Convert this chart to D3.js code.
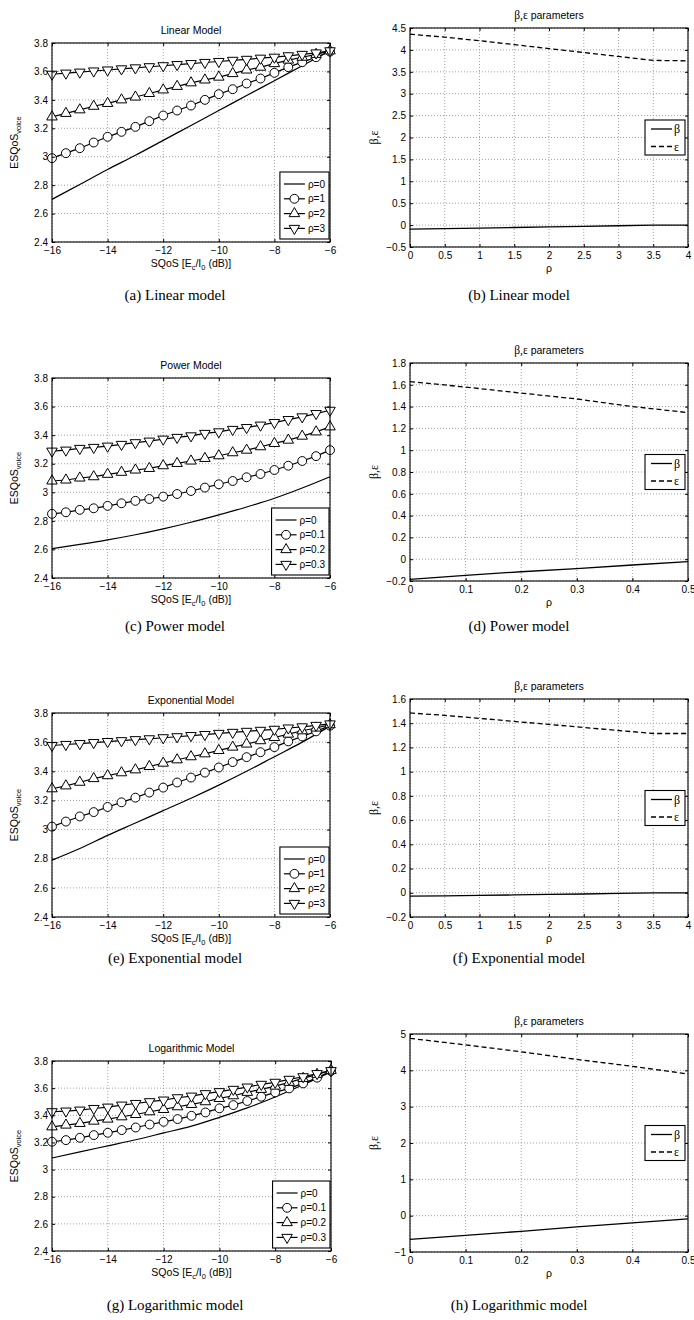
<!DOCTYPE html>
<html>
<head>
<meta charset="utf-8">
<style>
body { margin: 0; background: #fff; }
text { font-family: "Liberation Sans", Arial, sans-serif; fill: #000; }
.serif { font-family: "Liberation Serif", "Times New Roman", serif; }
.caption { font-family: "Liberation Serif", "Times New Roman", serif; font-size: 15px; }
.grid line { stroke: #8a8a8a; stroke-width: 0.8; stroke-dasharray: 1,2; }
.axis path { display: none; }
.axis line { stroke: #000; }
.axis text { font-size: 10px; font-family: "Liberation Sans", Arial, sans-serif; }
</style>
</head>
<body>

<svg id="chart" width="694" height="1320"></svg>

<script src="https://d3js.org/d3.v7.min.js"></script>
<script>

// x values
var sqos = [-16, -15.5, -15, -14.5, -14, -13.5, -13, -12.5, -12, -11.5, -11, -10.5, -10, -9.5, -9, -8.5, -8, -7.5, -7, -6.5, -6];
var sqosCoarse = [-16, -15, -14, -13, -12, -11, -10, -9, -8, -7, -6];
var rhoWide = [0, 0.5, 1, 1.5, 2, 2.5, 3, 3.5, 4];
var rhoNarrow = [0, 0.1, 0.2, 0.3, 0.4, 0.5];

// ESQoS curves
var linRho0 = [2.70, 2.805, 2.91, 3.01, 3.115, 3.22, 3.325, 3.43, 3.535, 3.64, 3.745];
var linRho1 = [2.99, 3.025, 3.06, 3.10, 3.14, 3.175, 3.21, 3.25, 3.29, 3.325, 3.36, 3.40, 3.44, 3.475, 3.515, 3.55, 3.59, 3.63, 3.665, 3.70, 3.74];
var linRho2 = [3.28, 3.305, 3.33, 3.355, 3.375, 3.40, 3.42, 3.445, 3.47, 3.495, 3.52, 3.54, 3.56, 3.585, 3.61, 3.63, 3.655, 3.68, 3.70, 3.72, 3.745];
var linRho3 = [3.58, 3.588, 3.595, 3.603, 3.61, 3.618, 3.625, 3.633, 3.64, 3.648, 3.655, 3.663, 3.67, 3.678, 3.685, 3.693, 3.70, 3.71, 3.72, 3.73, 3.745];

var powRho0 = [2.605, 2.635, 2.667, 2.703, 2.744, 2.79, 2.842, 2.897, 2.958, 3.03, 3.109];
var powRho1 = [2.849, 2.86, 2.877, 2.888, 2.905, 2.923, 2.94, 2.953, 2.97, 2.988, 3.009, 3.033, 3.056, 3.079, 3.105, 3.128, 3.156, 3.186, 3.219, 3.253, 3.295];
var powRho2 = [3.079, 3.086, 3.10, 3.109, 3.126, 3.14, 3.156, 3.167, 3.186, 3.202, 3.219, 3.237, 3.256, 3.277, 3.295, 3.319, 3.342, 3.365, 3.393, 3.423, 3.458];
var powRho3 = [3.288, 3.295, 3.307, 3.314, 3.323, 3.335, 3.347, 3.358, 3.372, 3.384, 3.395, 3.412, 3.423, 3.44, 3.453, 3.47, 3.488, 3.509, 3.528, 3.551, 3.574];

var expRho0 = [2.79, 2.87, 2.96, 3.045, 3.13, 3.215, 3.305, 3.40, 3.50, 3.60, 3.71];
var expRho1 = [3.02, 3.055, 3.09, 3.12, 3.155, 3.187, 3.219, 3.254, 3.288, 3.323, 3.357, 3.391, 3.426, 3.463, 3.497, 3.531, 3.566, 3.605, 3.639, 3.674, 3.713];
var expRho2 = [3.28, 3.30, 3.325, 3.35, 3.37, 3.39, 3.41, 3.433, 3.456, 3.479, 3.50, 3.52, 3.543, 3.566, 3.587, 3.61, 3.632, 3.655, 3.678, 3.697, 3.72];
var expRho3 = [3.577, 3.584, 3.59, 3.597, 3.604, 3.61, 3.617, 3.623, 3.63, 3.637, 3.645, 3.652, 3.66, 3.667, 3.674, 3.681, 3.688, 3.697, 3.705, 3.715, 3.725];

var logRho0 = [3.085, 3.13, 3.175, 3.22, 3.27, 3.32, 3.385, 3.455, 3.535, 3.625, 3.72];
var logRho1 = [3.205, 3.217, 3.234, 3.254, 3.271, 3.291, 3.31, 3.332, 3.352, 3.372, 3.396, 3.421, 3.451, 3.475, 3.505, 3.537, 3.569, 3.598, 3.635, 3.677, 3.726];
var logRho2 = [3.315, 3.328, 3.34, 3.357, 3.372, 3.389, 3.406, 3.426, 3.443, 3.463, 3.48, 3.50, 3.524, 3.544, 3.569, 3.591, 3.615, 3.643, 3.672, 3.702, 3.731];
var logRho3 = [3.426, 3.431, 3.438, 3.45, 3.46, 3.475, 3.487, 3.50, 3.512, 3.529, 3.541, 3.559, 3.574, 3.591, 3.608, 3.628, 3.643, 3.665, 3.684, 3.707, 3.729];

// beta / epsilon parameters
var linBeta = [-0.09, -0.08, -0.07, -0.055, -0.04, -0.03, -0.015, 0, 0];
var linEps = [4.36, 4.29, 4.21, 4.12, 4.03, 3.94, 3.85, 3.76, 3.75];
var powBeta = [-0.185, -0.148, -0.115, -0.087, -0.053, -0.023];
var powEps = [1.63, 1.579, 1.524, 1.47, 1.40, 1.345];
var expBeta = [-0.028, -0.025, -0.022, -0.018, -0.014, -0.01, -0.005, 0, 0];
var expEps = [1.485, 1.465, 1.44, 1.415, 1.39, 1.365, 1.34, 1.315, 1.315];
var logBeta = [-0.65, -0.54, -0.43, -0.31, -0.2, -0.09];
var logEps = [4.88, 4.70, 4.51, 4.30, 4.11, 3.90];

// ticks and labels
var sqosTicks = [-16, -14, -12, -10, -8, -6];
var esqosTicks = [2.4, 2.6, 2.8, 3, 3.2, 3.4, 3.6, 3.8];
var rhoWideTicks = [0, 0.5, 1, 1.5, 2, 2.5, 3, 3.5, 4];
var rhoNarrowTicks = [0, 0.1, 0.2, 0.3, 0.4, 0.5];
var linParamTicks = [-0.5, 0, 0.5, 1, 1.5, 2, 2.5, 3, 3.5, 4, 4.5];
var powParamTicks = [-0.2, 0, 0.2, 0.4, 0.6, 0.8, 1, 1.2, 1.4, 1.6, 1.8];
var expParamTicks = [-0.2, 0, 0.2, 0.4, 0.6, 0.8, 1, 1.2, 1.4, 1.6];
var logParamTicks = [-1, 0, 1, 2, 3, 4, 5];
var rhoLabelsInt = ["ρ=0", "ρ=1", "ρ=2", "ρ=3"];
var rhoLabelsDec = ["ρ=0", "ρ=0.1", "ρ=0.2", "ρ=0.3"];

var svg = d3.select("#chart");
var fmt = d3.format("~g");

function frame(g, x, y, w, h, xt, yt) {
    // dotted grid
    var grid = g.append("g").attr("class", "grid");
    grid.selectAll("line.gx").data(xt).enter().append("line").attr("class", "gx")
        .attr("x1", function(d) { return x(d); }).attr("x2", function(d) { return x(d); })
        .attr("y1", 0).attr("y2", h);
    grid.selectAll("line.gy").data(yt).enter().append("line").attr("class", "gy")
        .attr("y1", function(d) { return y(d); }).attr("y2", function(d) { return y(d); })
        .attr("x1", 0).attr("x2", w);
}

function axes(g, x, y, w, h, xt, yt) {
    g.append("g").attr("class", "axis").attr("transform", "translate(0," + h + ")")
        .call(d3.axisBottom(x).tickValues(xt).tickSize(-3).tickPadding(5).tickFormat(fmt));
    g.append("g").attr("class", "axis")
        .call(d3.axisTop(x).tickValues(xt).tickSize(-3).tickFormat(""));
    g.append("g").attr("class", "axis")
        .call(d3.axisLeft(y).tickValues(yt).tickSize(-3).tickPadding(4).tickFormat(fmt));
    g.append("g").attr("class", "axis").attr("transform", "translate(" + w + ",0)")
        .call(d3.axisRight(y).tickValues(yt).tickSize(-3).tickFormat(""));
    g.append("rect").attr("width", w).attr("height", h)
        .attr("fill", "none").attr("stroke", "#000").attr("stroke-width", 1.1);
}

var markerShapes = [null, d3.symbolCircle, d3.symbolTriangle, d3.symbolTriangle];
var markerSizes = [0, 62, 48, 48];
var markerRot = [0, 0, 0, 180];

function marker(sel, i) {
    sel.attr("d", d3.symbol().type(markerShapes[i]).size(markerSizes[i])())
        .attr("fill", "#fff").attr("stroke", "#000").attr("stroke-width", 1);
}

function drawModel(p) {
    var w = p.right - p.left, h = p.bottom - p.top;
    var g = svg.append("g").attr("transform", "translate(" + p.left + "," + p.top + ")");
    var x = d3.scaleLinear().domain([-16, -6]).range([0, w]);
    var y = d3.scaleLinear().domain([2.4, 3.8]).range([h, 0]);
    frame(g, x, y, w, h, sqosTicks, esqosTicks);

    var lineFine = d3.line().x(function(d) { return x(d[0]); }).y(function(d) { return y(d[1]); });
    var lineSmooth = d3.line().curve(d3.curveMonotoneX)
        .x(function(d) { return x(d[0]); }).y(function(d) { return y(d[1]); });

    g.append("path").datum(d3.zip(sqosCoarse, p.series[0]))
        .attr("d", lineSmooth).attr("fill", "none").attr("stroke", "#000").attr("stroke-width", 1.2);

    for (var i = 1; i < 4; i++) {
        var pts = d3.zip(sqos, p.series[i]);
        g.append("path").datum(pts).attr("d", lineFine)
            .attr("fill", "none").attr("stroke", "#000").attr("stroke-width", 1.2);
    }
    for (var j = 1; j < 4; j++) {
        g.selectAll("path.m" + j).data(d3.zip(sqos, p.series[j])).enter().append("path")
            .attr("class", "m" + j)
            .attr("transform", function(d) {
                return "translate(" + x(d[0]) + "," + y(d[1]) + ") rotate(" + markerRot[j] + ")";
            })
            .call(marker, j);
    }
    axes(g, x, y, w, h, sqosTicks, esqosTicks);

    // legend (south-east)
    var lg = g.append("g");
    var texts = [];
    p.labels.forEach(function(t) {
        texts.push(lg.append("text").style("font-size", "10px").text(t));
    });
    var tw = d3.max(texts, function(t) { return t.node().getComputedTextLength(); });
    var bw = tw + 32, bh = 67;
    var bx = w - bw - 1, by = h - bh - 3;
    lg.insert("rect", "text").attr("x", bx).attr("y", by).attr("width", bw).attr("height", bh)
        .attr("fill", "#fff").attr("stroke", "#000").attr("stroke-width", 1.1);
    p.labels.forEach(function(t, i) {
        var ry = by + 12 + i * 14.8;
        lg.append("line").attr("x1", bx + 4).attr("x2", bx + 25).attr("y1", ry).attr("y2", ry)
            .attr("stroke", "#000").attr("stroke-width", 1.2);
        if (i > 0) {
            lg.append("path").attr("transform", "translate(" + (bx + 14.5) + "," + ry + ") rotate(" + markerRot[i] + ")")
                .call(marker, i);
        }
        texts[i].attr("x", bx + 28).attr("y", ry + 3.5);
    });

    // titles and labels
    svg.append("text").attr("x", p.left + w / 2).attr("y", p.top - 9)
        .attr("text-anchor", "middle").style("font-size", "10.5px").text(p.title);
    var yl = svg.append("text")
        .attr("transform", "translate(" + (p.left - 34) + "," + (p.top + h / 2) + ") rotate(-90)")
        .attr("text-anchor", "middle").style("font-size", "10.5px");
    yl.append("tspan").text("ESQoS");
    yl.append("tspan").attr("dy", 3).style("font-size", "7.5px").text("voice");
    var xl = svg.append("text").attr("x", p.left + w / 2).attr("y", p.bottom + 25)
        .attr("text-anchor", "middle").style("font-size", "10.5px");
    xl.append("tspan").text("SQoS [E");
    xl.append("tspan").attr("dy", 3).style("font-size", "7.5px").text("c");
    xl.append("tspan").attr("dy", -3).text("/I");
    xl.append("tspan").attr("dy", 3).style("font-size", "7.5px").text("0");
    xl.append("tspan").attr("dy", -3).text(" (dB)]");
    svg.append("text").attr("class", "caption").attr("x", 175).attr("y", p.captionY)
        .attr("text-anchor", "middle").text(p.caption);
}

function drawParams(p) {
    var w = p.right - p.left, h = p.bottom - p.top;
    var g = svg.append("g").attr("transform", "translate(" + p.left + "," + p.top + ")");
    var x = d3.scaleLinear().domain(d3.extent(p.xTicks)).range([0, w]);
    var y = d3.scaleLinear().domain(d3.extent(p.yTicks)).range([h, 0]);
    frame(g, x, y, w, h, p.xTicks, p.yTicks);

    var line = d3.line().x(function(d) { return x(d[0]); }).y(function(d) { return y(d[1]); });
    g.append("path").datum(d3.zip(p.rho, p.beta)).attr("d", line)
        .attr("fill", "none").attr("stroke", "#000").attr("stroke-width", 1.3);
    g.append("path").datum(d3.zip(p.rho, p.eps)).attr("d", line)
        .attr("fill", "none").attr("stroke", "#000").attr("stroke-width", 1.3)
        .attr("stroke-dasharray", "5,3");
    axes(g, x, y, w, h, p.xTicks, p.yTicks);

    // legend (east)
    var bw = 40, bh = 35;
    var bx = w - bw - 3, by = h / 2 - bh / 2;
    g.append("rect").attr("x", bx).attr("y", by).attr("width", bw).attr("height", bh)
        .attr("fill", "#fff").attr("stroke", "#000").attr("stroke-width", 1.1);
    ["β", "ε"].forEach(function(t, i) {
        var ry = by + 9 + i * 17.5;
        g.append("line").attr("x1", bx + 6).attr("x2", bx + 27).attr("y1", ry).attr("y2", ry)
            .attr("stroke", "#000").attr("stroke-width", 1.3)
            .attr("stroke-dasharray", i === 1 ? "5,3" : null);
        g.append("text").attr("class", "serif").attr("x", bx + 29).attr("y", ry + 4)
            .style("font-size", "12px").text(t);
    });

    var tt = svg.append("text").attr("x", p.left + w / 2).attr("y", p.top - 9)
        .attr("text-anchor", "middle").style("font-size", "10.5px");
    tt.append("tspan").attr("class", "serif").style("font-size", "11.5px").text("β,ε");
    tt.append("tspan").text(" parameters");
    svg.append("text").attr("class", "serif")
        .attr("transform", "translate(" + (p.left - 32) + "," + (p.top + h / 2) + ") rotate(-90)")
        .attr("text-anchor", "middle").style("font-size", "12px").text("β,ε");
    svg.append("text").attr("x", p.left + w / 2).attr("y", p.bottom + 25)
        .attr("text-anchor", "middle").style("font-size", "10.5px").text("ρ");
    svg.append("text").attr("class", "caption").attr("x", 519).attr("y", p.captionY)
        .attr("text-anchor", "middle").text(p.caption);
}

drawModel({left: 52, right: 330, top: 43, bottom: 242, title: "Linear Model",
    series: [linRho0, linRho1, linRho2, linRho3], labels: rhoLabelsInt,
    caption: "(a) Linear model", captionY: 300});
drawParams({left: 410, right: 688, top: 28, bottom: 247, rho: rhoWide, beta: linBeta, eps: linEps,
    xTicks: rhoWideTicks, yTicks: linParamTicks, caption: "(b) Linear model", captionY: 300});

drawModel({left: 52, right: 330, top: 378, bottom: 578, title: "Power Model",
    series: [powRho0, powRho1, powRho2, powRho3], labels: rhoLabelsDec,
    caption: "(c) Power model", captionY: 631});
drawParams({left: 410, right: 688, top: 363, bottom: 581, rho: rhoNarrow, beta: powBeta, eps: powEps,
    xTicks: rhoNarrowTicks, yTicks: powParamTicks, caption: "(d) Power model", captionY: 631});

drawModel({left: 52, right: 330, top: 713, bottom: 917, title: "Exponential Model",
    series: [expRho0, expRho1, expRho2, expRho3], labels: rhoLabelsInt,
    caption: "(e) Exponential model", captionY: 963});
drawParams({left: 410, right: 688, top: 699, bottom: 917, rho: rhoWide, beta: expBeta, eps: expEps,
    xTicks: rhoWideTicks, yTicks: expParamTicks, caption: "(f) Exponential model", captionY: 963});

drawModel({left: 52, right: 331, top: 1061, bottom: 1251, title: "Logarithmic Model",
    series: [logRho0, logRho1, logRho2, logRho3], labels: rhoLabelsDec,
    caption: "(g) Logarithmic model", captionY: 1310});
drawParams({left: 410, right: 688, top: 1034, bottom: 1252, rho: rhoNarrow, beta: logBeta, eps: logEps,
    xTicks: rhoNarrowTicks, yTicks: logParamTicks, caption: "(h) Logarithmic model", captionY: 1310});

</script>
</body>
</html>
